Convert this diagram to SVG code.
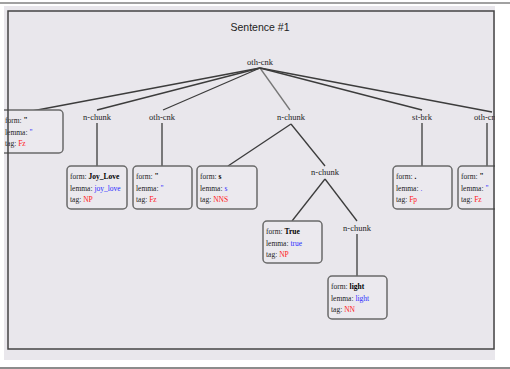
<svg xmlns="http://www.w3.org/2000/svg" width="510" height="369" viewBox="0 0 510 369">
<style>
.lbl{font-family:"Liberation Serif",serif;font-size:8.5px;fill:#222;text-anchor:middle}
.bt{font-family:"Liberation Serif",serif;font-size:7.5px;fill:#222}
.v{fill:#000;font-weight:bold}
.lem{fill:#2a2aff}
.tag{fill:#ff2020}
.box{fill:#ebe9ee;stroke:#6a6a6a;stroke-width:1.5}
.edge{stroke:#3c3c3c;stroke-width:1.3;fill:none}
</style>
<defs>
<clipPath id="clip"><rect x="4" y="6" width="491" height="354"/></clipPath>
</defs>
<rect width="510" height="369" fill="#ffffff"/>
<line x1="0" y1="3" x2="510" y2="3" stroke="#444" stroke-width="1.2"/>
<rect x="4" y="6" width="491" height="354" fill="#e9e7ec"/>
<line x1="0" y1="368" x2="510" y2="368" stroke="#666" stroke-width="1.5"/>
<text x="260" y="31" font-family="Liberation Sans, sans-serif" font-size="10.5" fill="#222" text-anchor="middle">Sentence #1</text>
<g clip-path="url(#clip)">
<g id="connectors">
<line class="edge" x1="260" y1="68" x2="32" y2="111"/>
<line class="edge" x1="260" y1="68" x2="97" y2="110"/>
<line class="edge" x1="260" y1="68" x2="163" y2="110"/>
<line class="edge" x1="260" y1="68" x2="290" y2="110" style="stroke:#777"/>
<line class="edge" x1="260" y1="68" x2="422" y2="110"/>
<line class="edge" x1="260" y1="68" x2="492" y2="112"/>
<line class="edge" x1="97" y1="123" x2="97" y2="166"/>
<line class="edge" x1="162" y1="123" x2="162" y2="166"/>
<line class="edge" x1="291" y1="124" x2="228" y2="166"/>
<line class="edge" x1="291" y1="124" x2="325" y2="166"/>
<line class="edge" x1="325" y1="179" x2="292" y2="221"/>
<line class="edge" x1="325" y1="179" x2="357" y2="221"/>
<line class="edge" x1="357" y1="234" x2="357" y2="276"/>
<line class="edge" x1="422" y1="123" x2="422" y2="166"/>
<line class="edge" x1="487" y1="123" x2="487" y2="166"/>
</g>
<g id="root"><text class="lbl" x="260" y="65">oth-cnk</text></g>
<g id="leaf1"><rect class="box" x="-2" y="110" width="65" height="43" rx="4"/>
<text class="bt" x="5" y="123">form: <tspan class="v">"</tspan></text>
<text class="bt" x="5" y="135">lemma: <tspan class="lem">"</tspan></text>
<text class="bt" x="5" y="146">tag: <tspan class="tag">Fz</tspan></text></g>
<g id="nchunk1"><text class="lbl" x="97" y="120">n-chunk</text></g>
<g id="othcnk1"><text class="lbl" x="162" y="120">oth-cnk</text></g>
<g id="nchunk2"><text class="lbl" x="291" y="120">n-chunk</text></g>
<g id="stbrk"><text class="lbl" x="422" y="120">st-brk</text></g>
<g id="othcnk2"><text class="lbl" x="487" y="120">oth-cnk</text></g>
<g id="leaf2"><rect class="box" x="67" y="166" width="60" height="43" rx="4"/>
<text class="bt" x="70" y="179">form: <tspan class="v">Joy_Love</tspan></text>
<text class="bt" x="70" y="191">lemma: <tspan class="lem">joy_love</tspan></text>
<text class="bt" x="70" y="202">tag: <tspan class="tag">NP</tspan></text></g>
<g id="leaf3"><rect class="box" x="133" y="166" width="59" height="43" rx="4"/>
<text class="bt" x="136" y="179">form: <tspan class="v">"</tspan></text>
<text class="bt" x="136" y="191">lemma: <tspan class="lem">"</tspan></text>
<text class="bt" x="136" y="202">tag: <tspan class="tag">Fz</tspan></text></g>
<g id="leaf4"><rect class="box" x="197" y="166" width="60" height="43" rx="4"/>
<text class="bt" x="200" y="179">form: <tspan class="v">s</tspan></text>
<text class="bt" x="200" y="191">lemma: <tspan class="lem">s</tspan></text>
<text class="bt" x="200" y="202">tag: <tspan class="tag">NNS</tspan></text></g>
<g id="nchunk3"><text class="lbl" x="325" y="175">n-chunk</text></g>
<g id="leaf5"><rect class="box" x="263" y="221" width="59" height="42" rx="4"/>
<text class="bt" x="266" y="234">form: <tspan class="v">True</tspan></text>
<text class="bt" x="266" y="246">lemma: <tspan class="lem">true</tspan></text>
<text class="bt" x="266" y="257">tag: <tspan class="tag">NP</tspan></text></g>
<g id="nchunk4"><text class="lbl" x="357" y="231">n-chunk</text></g>
<g id="leaf6"><rect class="box" x="328" y="276" width="59" height="43" rx="4"/>
<text class="bt" x="331" y="289">form: <tspan class="v">light</tspan></text>
<text class="bt" x="331" y="301">lemma: <tspan class="lem">light</tspan></text>
<text class="bt" x="331" y="312">tag: <tspan class="tag">NN</tspan></text></g>
<g id="leaf7"><rect class="box" x="393" y="166" width="59" height="43" rx="4"/>
<text class="bt" x="396" y="179">form: <tspan class="v">.</tspan></text>
<text class="bt" x="396" y="191">lemma: <tspan class="lem">.</tspan></text>
<text class="bt" x="396" y="202">tag: <tspan class="tag">Fp</tspan></text></g>
<g id="leaf8"><rect class="box" x="458" y="166" width="59" height="43" rx="4"/>
<text class="bt" x="461" y="179">form: <tspan class="v">"</tspan></text>
<text class="bt" x="461" y="191">lemma: <tspan class="lem">"</tspan></text>
<text class="bt" x="461" y="202">tag: <tspan class="tag">Fz</tspan></text></g>
</g>
<rect x="8" y="11" width="486" height="338" fill="none" stroke="#444" stroke-width="1.5"/>
</svg>
